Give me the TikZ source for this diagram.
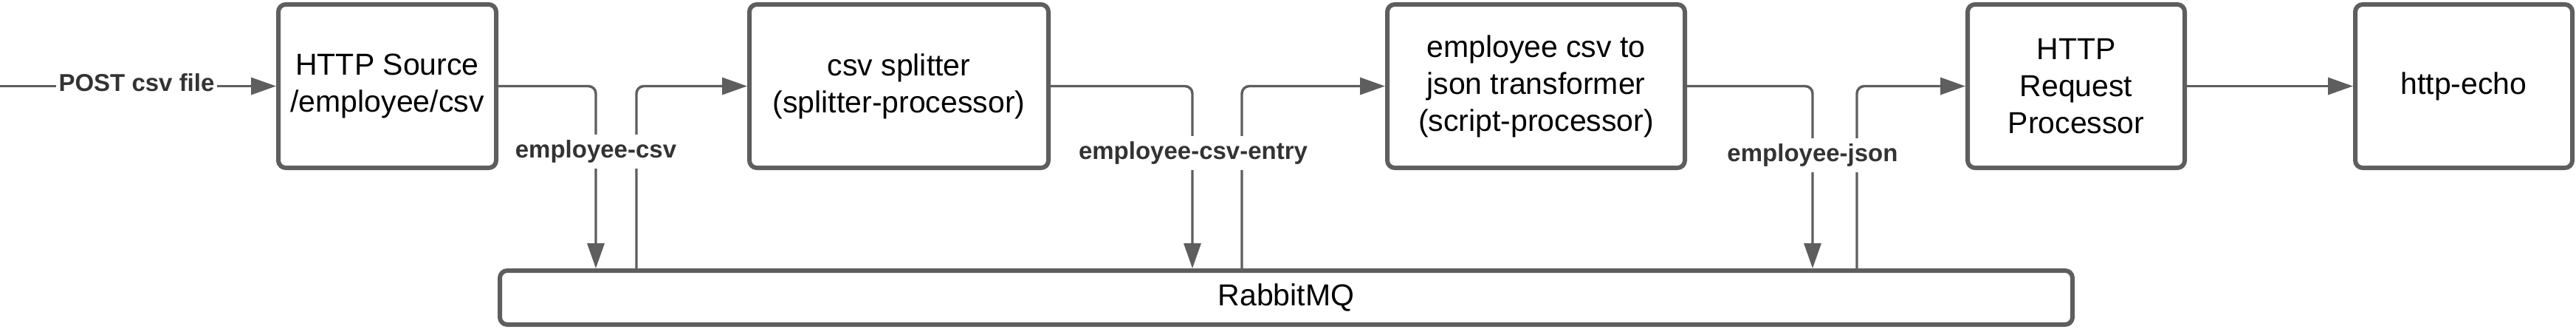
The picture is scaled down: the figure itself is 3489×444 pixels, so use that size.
\documentclass[tikz,border=0pt]{standalone}
\usepackage{fontspec}
\setmainfont{Liberation Sans}
\usetikzlibrary{arrows.meta}
\definecolor{lc}{HTML}{5E5E5E}
\definecolor{lbl}{HTML}{333333}
\begin{document}
\begin{tikzpicture}[x=0.25pt,y=-0.25pt,
  box/.style={draw=lc, line width=1.5pt, rounded corners=2.5pt, align=center,
    font=\fontsize{10.25pt}{12.5pt}\selectfont, inner sep=0pt},
  conn/.style={draw=lc, line width=0.85pt, rounded corners=2.5pt},
  arr/.style={conn, -{Triangle[length=8.5pt,width=5.75pt]}},
  lab/.style={fill=white, font=\fontsize{8.25pt}{10pt}\selectfont\bfseries, text=lbl,
    inner xsep=1pt, inner ysep=2pt}
]
\useasboundingbox (0,0) rectangle (3489,444);
% boxes
\node[box, minimum width=73.75pt, minimum height=55.25pt] (src) at (524.5,116.5) {HTTP Source\\/employee/csv};
\node[box, minimum width=101.25pt, minimum height=55.25pt] (split) at (1217.5,116.5) {csv splitter\\(splitter-processor)};
\node[box, minimum width=100.75pt, minimum height=55.25pt] (trans) at (2080.5,116.5) {employee csv to\\json transformer\\(script-processor)};
\node[box, minimum width=73.5pt, minimum height=55.25pt] (req) at (2812,116.5) {HTTP\\Request\\Processor};
\node[box, minimum width=73.5pt, minimum height=55.25pt] (echo) at (3337,116.5) {http-echo};
\node[box, minimum width=532.5pt, minimum height=18.25pt] (rmq) at (1742,402.5) {RabbitMQ};
% coordinates
\coordinate (in) at (0,116.5);
\coordinate (d1) at (807,0);
\coordinate (u1) at (862,0);
\coordinate (d2) at (1615,0);
\coordinate (u2) at (1682,0);
\coordinate (d3) at (2455,0);
\coordinate (u3) at (2515,0);
% connectors
\draw[arr] (in) -- (src.west);
\draw[arr] (src.east) -| (d1 |- rmq.north);
\draw[arr] (u1 |- rmq.north) |- (split.west);
\draw[arr] (split.east) -| (d2 |- rmq.north);
\draw[arr] (u2 |- rmq.north) |- (trans.west);
\draw[arr] (trans.east) -| (d3 |- rmq.north);
\draw[arr] (u3 |- rmq.north) |- (req.west);
\draw[arr] (req.east) -- (echo.west);
% labels
\node[lab] (lpost) at (185,112) {POST csv file};
\node[lab] (l1) at (807,205) {employee-csv};
\node[lab] (l2) at (1616,207) {employee-csv-entry};
\node[lab] (l3) at (2455,210) {employee-json};
\end{tikzpicture}
\end{document}
